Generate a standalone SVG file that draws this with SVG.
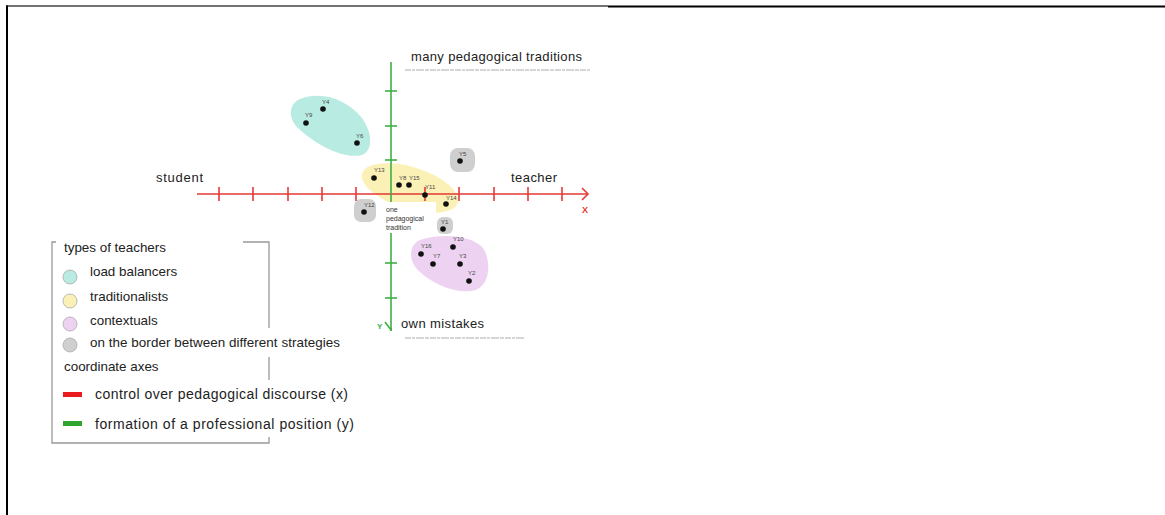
<svg xmlns="http://www.w3.org/2000/svg" width="1165" height="515" viewBox="0 0 1165 515">
<style>
.t{font-family:"Liberation Sans",Arial,sans-serif;fill:#222}
.big{font-size:13px}
.big2{font-size:14px}
.leg{font-size:13.4px}
.lbl{font-family:"Liberation Sans",Arial,sans-serif;font-size:6px;fill:#444}
.dot{fill:#111}
.rt{stroke:#e53935;stroke-width:1.6;fill:none}
.gt{stroke:#3cb043;stroke-width:1.6;fill:none}
.gbox{fill:#cfcfcf}
.lc{stroke:#aaa;stroke-width:0.8}
.frame{stroke:#999;stroke-width:1.3;fill:none}
</style>
<rect width="1165" height="515" fill="#fff"/>
<!-- page border -->
<line x1="6" y1="6" x2="608" y2="6" stroke="#444" stroke-width="1.5"/>
<line x1="608" y1="6.5" x2="1165" y2="6.5" stroke="#000" stroke-width="2"/>
<line x1="7" y1="5.5" x2="7" y2="515" stroke="#000" stroke-width="2"/>

<!-- clusters -->
<g id="cluster-load-balancers">
<path d="M300,99 C322,90 348,100 362,118 C372,132 374,150 362,155 C342,160 312,142 297,127 C287,116 290,103 300,99 Z" fill="#b8ebe1"/>
</g>
<g id="cluster-traditionalists">
<ellipse cx="410" cy="188" rx="50" ry="21" transform="rotate(17 410 188)" fill="#fbf0b5"/>
</g>
<g id="cluster-contextuals">
<path d="M420,240 C440,233 472,235 483,248 C491,260 491,284 476,290 C458,295 434,285 420,272 C408,262 408,245 420,240 Z" fill="#edd3f1"/>
</g>
<g id="border-boxes">
<rect x="450" y="148" width="25" height="24" rx="8" class="gbox"/>
<rect x="354" y="199" width="22" height="23" rx="7" class="gbox"/>
<rect x="437" y="217" width="16" height="17" rx="6" class="gbox"/>
</g>

<!-- axes (connectors) -->
<g id="connectors">
<line x1="197" y1="194" x2="588" y2="194" class="rt"/>
<polyline points="582,188 588,194 582,200" class="rt"/>
<g class="rt">
<line x1="219" y1="187" x2="219" y2="201"/><line x1="253" y1="187" x2="253" y2="201"/>
<line x1="288" y1="187" x2="288" y2="201"/><line x1="322" y1="187" x2="322" y2="201"/>
<line x1="356" y1="187" x2="356" y2="201"/><line x1="425" y1="187" x2="425" y2="201"/>
<line x1="459" y1="187" x2="459" y2="201"/><line x1="494" y1="187" x2="494" y2="201"/>
<line x1="528" y1="187" x2="528" y2="201"/><line x1="562" y1="187" x2="562" y2="201"/>
</g>
<line x1="391" y1="62" x2="391" y2="331" class="gt"/>
<polyline points="385,322 391,330 397,322" class="gt"/>
<g class="gt">
<line x1="385" y1="91" x2="397" y2="91"/><line x1="385" y1="126" x2="397" y2="126"/>
<line x1="385" y1="160" x2="397" y2="160"/><line x1="385" y1="229" x2="397" y2="229"/>
<line x1="385" y1="263" x2="397" y2="263"/><line x1="385" y1="298" x2="397" y2="298"/>
</g>
</g>

<!-- white label boxes -->
<rect x="384" y="202" width="52" height="31" fill="#fff"/>
<rect x="392" y="312" width="100" height="22" fill="#fff"/>

<!-- axis labels -->
<g id="axis-labels">
<text x="411" y="61" class="t big" textLength="171">many pedagogical traditions</text>
<line x1="405" y1="70" x2="590" y2="70" stroke="#d6d6d6" stroke-width="2" stroke-dasharray="6 1 3 1 8 1 4 1"/>
<text x="401" y="328" class="t big" textLength="83">own mistakes</text>
<line x1="405" y1="338" x2="525" y2="338" stroke="#d6d6d6" stroke-width="2" stroke-dasharray="6 1 3 1 8 1 4 1"/>
<text x="156" y="182" class="t big" textLength="47">student</text>
<text x="511" y="182" class="t big" textLength="46">teacher</text>
<text x="582" y="213" font-family="Liberation Sans,Arial,sans-serif" font-size="9" font-weight="bold" fill="#e53935">X</text>
<text x="377" y="329" font-family="Liberation Sans,Arial,sans-serif" font-size="8" font-weight="bold" fill="#3cb043">Y</text>
<text font-family="Liberation Sans,Arial,sans-serif" font-size="7" fill="#333"><tspan x="386" y="212">one</tspan><tspan x="386" y="221">pedagogical</tspan><tspan x="386" y="230">tradition</tspan></text>
</g>

<!-- teachers -->
<g id="Y4"><circle cx="323" cy="109" r="2.8" class="dot"/><text x="322" y="104" class="lbl">Y4</text></g>
<g id="Y9"><circle cx="306" cy="123" r="2.8" class="dot"/><text x="305" y="117" class="lbl">Y9</text></g>
<g id="Y6"><circle cx="357" cy="143" r="2.8" class="dot"/><text x="356" y="138" class="lbl">Y6</text></g>
<g id="Y5"><circle cx="460" cy="161" r="2.8" class="dot"/><text x="459" y="156" class="lbl">Y5</text></g>
<g id="Y13"><circle cx="374" cy="178" r="2.8" class="dot"/><text x="374" y="172" class="lbl">Y13</text></g>
<g id="Y8"><circle cx="399" cy="185" r="2.8" class="dot"/><text x="399" y="180" class="lbl">Y8</text></g>
<g id="Y15"><circle cx="409" cy="185" r="2.8" class="dot"/><text x="409" y="180" class="lbl">Y15</text></g>
<g id="Y11"><circle cx="425" cy="195" r="2.8" class="dot"/><text x="425" y="189" class="lbl">Y11</text></g>
<g id="Y14"><circle cx="446" cy="204" r="2.8" class="dot"/><text x="446" y="200" class="lbl">Y14</text></g>
<g id="Y12"><circle cx="364" cy="212" r="2.8" class="dot"/><text x="364" y="207" class="lbl">Y12</text></g>
<g id="Y1"><circle cx="443" cy="229" r="2.8" class="dot"/><text x="441" y="224" class="lbl">Y1</text></g>
<g id="Y10"><circle cx="453" cy="247" r="2.8" class="dot"/><text x="453" y="241" class="lbl">Y10</text></g>
<g id="Y16"><circle cx="421" cy="254" r="2.8" class="dot"/><text x="421" y="248" class="lbl">Y16</text></g>
<g id="Y7"><circle cx="433" cy="264" r="2.8" class="dot"/><text x="433" y="258" class="lbl">Y7</text></g>
<g id="Y3"><circle cx="460" cy="264" r="2.8" class="dot"/><text x="459" y="258" class="lbl">Y3</text></g>
<g id="Y2"><circle cx="469" cy="281" r="2.8" class="dot"/><text x="468" y="275" class="lbl">Y2</text></g>

<!-- legend -->
<g id="legend">
<path d="M56,242 H52 V443 H269 V437" class="frame"/>
<path d="M243,242 H269 V328" class="frame"/>
<path d="M269,357 V380" class="frame"/>
<text x="64" y="252" class="t leg">types of teachers</text>
<circle cx="70" cy="277" r="7" fill="#b8ebe1" class="lc"/>
<text x="90" y="276" class="t leg">load balancers</text>
<circle cx="70" cy="301" r="7" fill="#fbf0b5" class="lc"/>
<text x="90" y="301" class="t leg">traditionalists</text>
<circle cx="70" cy="324" r="7" fill="#edd3f1" class="lc"/>
<text x="90" y="325" class="t leg">contextuals</text>
<circle cx="70" cy="345" r="7" fill="#cfcfcf" class="lc"/>
<text x="90" y="347" class="t leg" textLength="250">on the border between different strategies</text>
<text x="64" y="371" class="t leg">coordinate axes</text>
<rect x="63" y="392" width="19" height="5" fill="#e81c1c"/>
<text x="95" y="399" class="t big2" textLength="253">control over pedagogical discourse (x)</text>
<rect x="63" y="421" width="19" height="5" fill="#2fa52f"/>
<text x="95" y="429" class="t big2" textLength="259">formation of a professional position (y)</text>
</g>
</svg>
